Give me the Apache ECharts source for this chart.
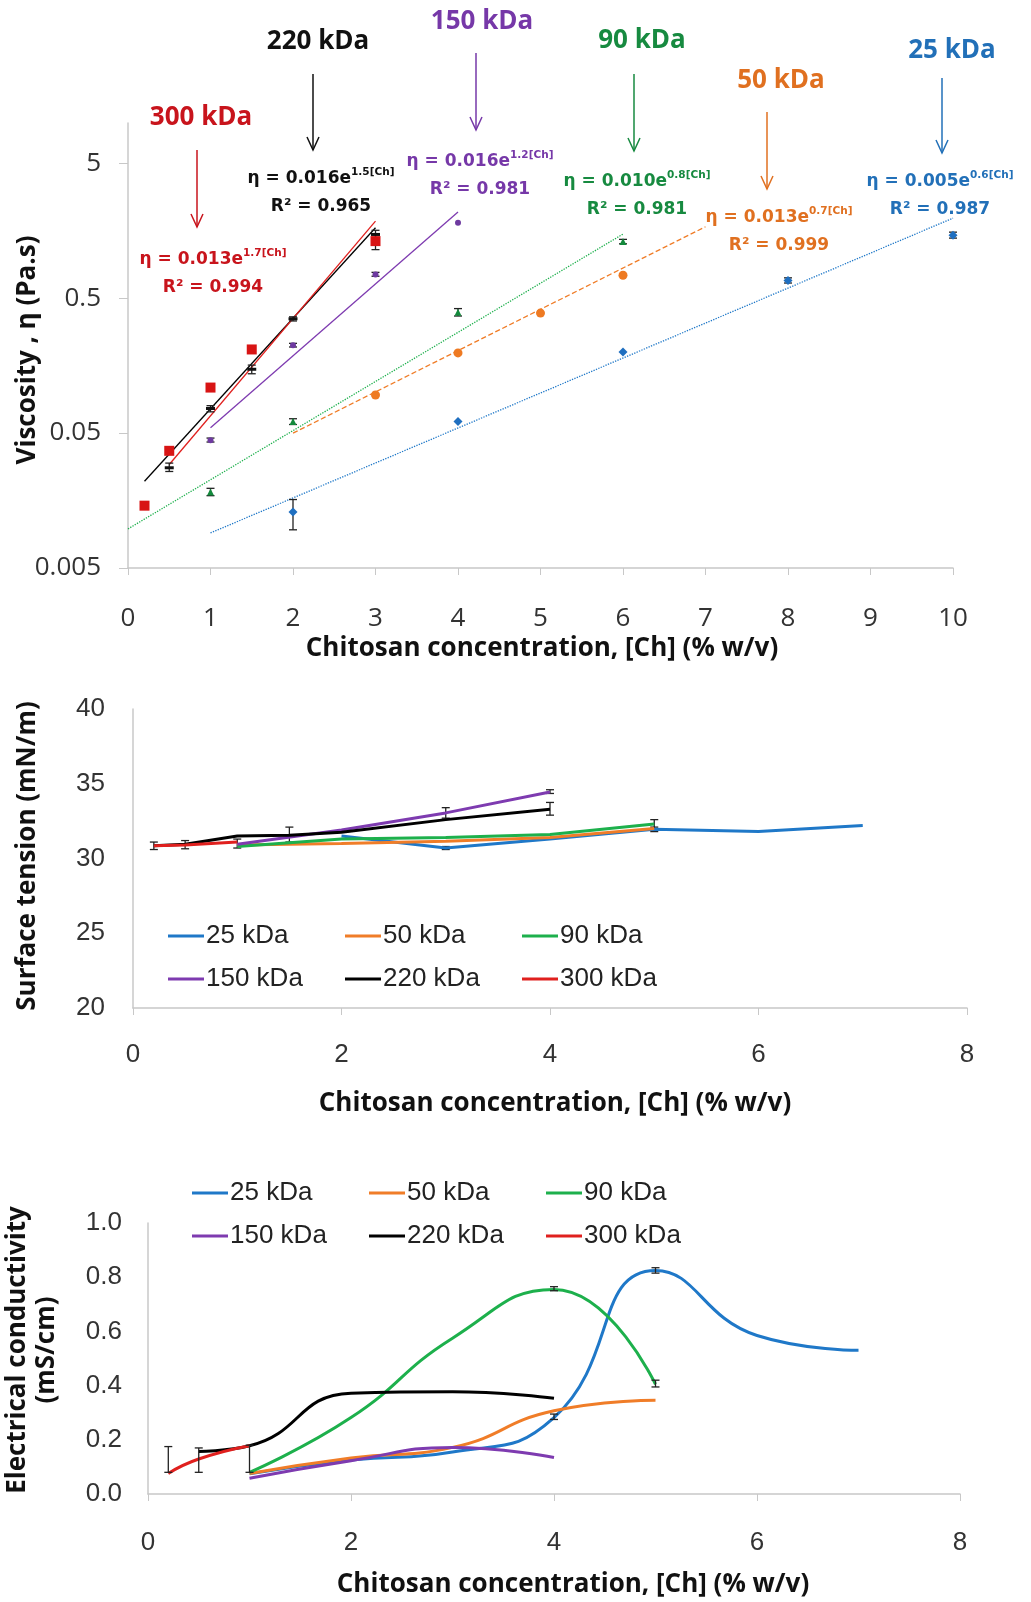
<!DOCTYPE html>
<html>
<head>
<meta charset="utf-8">
<script src="https://cdn.jsdelivr.net/npm/echarts@6/dist/echarts.min.js"></script>
<style>
  html, body { margin: 0; padding: 0; background: #fff; }
  #chart-container { width: 1031px; height: 1602px; }
</style>
</head>
<body>
<div id="chart-container"></div>
<script>
// series names
var kDa = ["25 kDa", "50 kDa", "90 kDa", "150 kDa", "220 kDa", "300 kDa"];

// viscosity points [conc, Pa.s]
var visc25 = [[2, 0.013], [4, 0.061], [6, 0.2], [8, 0.68], [10, 1.47]];
var visc50 = [[3, 0.096], [4, 0.197], [5, 0.389], [6, 0.743]];
var visc90 = [[1, 0.0183], [2, 0.061], [4, 0.395], [6, 1.32]];
var visc150 = [[1, 0.0444], [2, 0.225], [3, 0.753], [4, 1.82]];
var visc220 = [[0.5, 0.0277], [1, 0.0762], [1.5, 0.149], [2, 0.353], [3, 1.49]];
var visc300 = [[0.2, 0.0145], [0.5, 0.037], [1, 0.109], [1.5, 0.209], [3, 1.33]];

// exponential fit lines, end points
var fit25 = [[1, 0.0091], [10, 1.97]];
var fit50 = [[2, 0.05], [7, 1.7]];
var fit90 = [[0, 0.00975], [6, 1.5]];
var fit150 = [[1, 0.0548], [4, 2.19]];
var fit220 = [[0.2, 0.022], [3, 1.67]];
var fit300 = [[0.5, 0.0293], [3, 1.87]];

// error bars [conc, low, high]
var viscErr = [[0.5, 0.026, 0.030], [1, 0.072, 0.080], [1.5, 0.138, 0.160], [2, 0.34, 0.365],
  [3, 1.38, 1.6], [3, 1.15, 1.5], [2, 0.0096, 0.0161], [1, 0.0172, 0.0195], [2, 0.058, 0.064],
  [4, 0.37, 0.42], [6, 1.27, 1.37], [8, 0.65, 0.71], [10, 1.40, 1.55],
  [1, 0.043, 0.046], [2, 0.218, 0.232], [3, 0.73, 0.78]];

// fit equations
var fitEq = ["0.005e", "0.013e", "0.010e", "0.016e", "0.016e", "0.013e"];
var fitExp = ["0.6[Ch]", "0.7[Ch]", "0.8[Ch]", "1.2[Ch]", "1.5[Ch]", "1.7[Ch]"];
var fitR2 = ["0.987", "0.999", "0.981", "0.981", "0.965", "0.994"];

// surface tension [conc, mN/m]
var st25 = [[2, 31.5], [3, 30.7], [4, 31.3], [5, 31.95], [6, 31.8], [7, 32.2]];
var st50 = [[1, 30.9], [2, 31.0], [3, 31.15], [4, 31.4], [5, 32.0]];
var st90 = [[1, 30.8], [2, 31.3], [3, 31.4], [4, 31.6], [5, 32.3]];
var st150 = [[1, 30.95], [2, 31.9], [3, 33.05], [4, 34.45]];
var st220 = [[0.2, 30.85], [0.5, 30.95], [1, 31.5], [1.5, 31.55], [2, 31.75], [3, 32.6], [4, 33.3]];
var st300 = [[0.2, 30.85], [0.5, 30.9], [1, 31.1]];
var stErr = [[0.2, 30.6, 31.1], [0.5, 30.65, 31.2], [1, 30.7, 31.3], [1.5, 31.1, 32.1],
  [3, 32.7, 33.4], [4, 32.9, 33.75], [4, 34.35, 34.6], [5, 31.9, 32.6], [3, 30.6, 30.8], [5, 31.8, 32.1]];

// electrical conductivity [conc, mS/cm]
var ec25 = [[1, 0.075], [2, 0.125], [3, 0.155], [4, 0.282], [5, 0.825], [6, 0.585], [7, 0.53]];
var ec50 = [[1, 0.076], [2, 0.133], [3, 0.172], [4, 0.307], [5, 0.346]];
var ec90 = [[1, 0.08], [2, 0.282], [3, 0.575], [4, 0.755], [5, 0.405]];
var ec150 = [[1, 0.058], [2, 0.123], [3, 0.172], [4, 0.135]];
var ec220 = [[0.5, 0.157], [1, 0.178], [2, 0.372], [3, 0.377], [4, 0.353]];
var ec300 = [[0.2, 0.076], [0.5, 0.129], [1, 0.178]];
var ecErr = [[0.2, 0.08, 0.175], [0.5, 0.08, 0.17], [1, 0.08, 0.18], [4, 0.75, 0.765],
  [5, 0.395, 0.42], [5, 0.815, 0.835], [4, 0.275, 0.295]];

var lineColors = ["#1F78C8", "#F07D28", "#1DB04C", "#7E3BB0", "#000000", "#E0201E"];
var markColors = ["#1F6FC0", "#EE7A22", "#138A3C", "#6E3AA0", "#111111", "#D81414"];
var eqColors = ["#2270B8", "#E07020", "#178A40", "#7638A8", "#111111", "#C8141C"];

var dom = document.getElementById("chart-container");
var myChart = echarts.init(dom, null, { renderer: "canvas" });

function renderErr(params, api) {
  var x = api.value(0);
  var lo = api.coord([x, api.value(1)]);
  var hi = api.coord([x, api.value(2)]);
  var w = 4;
  var st = { stroke: "#222", lineWidth: 1.3 };
  return {
    type: "group",
    children: [
      { type: "line", shape: { x1: lo[0], y1: lo[1], x2: hi[0], y2: hi[1] }, style: st },
      { type: "line", shape: { x1: lo[0] - w, y1: lo[1], x2: lo[0] + w, y2: lo[1] }, style: st },
      { type: "line", shape: { x1: hi[0] - w, y1: hi[1], x2: hi[0] + w, y2: hi[1] }, style: st }
    ]
  };
}

var tickFont = { fontFamily: "Open Sans", fontSize: 26, color: "#333" };
var smallFont = { fontFamily: "Liberation Sans", fontSize: 26, color: "#333" };

function xAxisFor(idx, max, interval, font, margin) {
  return {
    type: "value", gridIndex: idx, min: 0, max: max, interval: interval,
    axisLine: { show: true, onZero: false, lineStyle: { color: "#c8c8c8", width: 1.5 } },
    axisTick: { show: true, inside: false, length: 7, lineStyle: { color: "#c8c8c8" } },
    axisLabel: Object.assign({ margin: margin }, font),
    splitLine: { show: false }
  };
}

var fits = [fit25, fit50, fit90, fit150, fit220, fit300];
var viscs = [visc25, visc50, visc90, visc150, visc220, visc300];
var sts = [st25, st50, st90, st150, st220, st300];
var ecs = [ec25, ec50, ec90, ec150, ec220, ec300];
var markerSym = ["diamond", "circle", "triangle", "circle", "rect", "rect"];
var markerSize = [9, 9, 7, 6, [9, 3], 10];
var fitType = ["dotted", "dashed", "dotted", "solid", "solid", "solid"];

var series = [];
fits.forEach(function (d, i) {
  series.push({
    name: "fit " + kDa[i], type: "line", xAxisIndex: 0, yAxisIndex: 0, data: d,
    showSymbol: false, silent: true,
    lineStyle: { color: lineColors[i], width: 1.3, type: fitType[i] }, z: 2
  });
});
series.push({
  name: "err viscosity", type: "custom", xAxisIndex: 0, yAxisIndex: 0,
  renderItem: renderErr, encode: { x: 0, y: [1, 2] }, data: viscErr, z: 3
});
viscs.forEach(function (d, i) {
  series.push({
    name: "η " + kDa[i], type: "scatter", xAxisIndex: 0, yAxisIndex: 0, data: d,
    symbol: markerSym[i], symbolSize: markerSize[i],
    itemStyle: { color: markColors[i], opacity: 1 }, z: 4
  });
});
series.push({
  name: "err tension", type: "custom", xAxisIndex: 1, yAxisIndex: 1,
  renderItem: renderErr, encode: { x: 0, y: [1, 2] }, data: stErr, z: 1
});
sts.forEach(function (d, i) {
  series.push({
    name: kDa[i], type: "line", xAxisIndex: 1, yAxisIndex: 1, data: d,
    showSymbol: false, color: lineColors[i],
    lineStyle: { width: 3, color: lineColors[i] }, z: 2
  });
});
ecs.forEach(function (d, i) {
  series.push({
    name: kDa[i], type: "line", xAxisIndex: 2, yAxisIndex: 2, data: d,
    showSymbol: false, smooth: 0.5, color: lineColors[i],
    lineStyle: { width: 3, color: lineColors[i] }, z: 2
  });
});
series.push({
  name: "err conductivity", type: "custom", xAxisIndex: 2, yAxisIndex: 2,
  renderItem: renderErr, encode: { x: 0, y: [1, 2] }, data: ecErr, z: 3
});

function legendFor(left, top) {
  return {
    data: kDa, left: left, top: top, width: 545, padding: 0,
    orient: "horizontal", icon: "rect", itemWidth: 36, itemHeight: 3, itemGap: 9,
    selectedMode: false,
    textStyle: { fontFamily: "Liberation Sans", fontSize: 26, color: "#222", width: 130, lineHeight: 34, padding: [0, 0, 0, -3] }
  };
}

// annotations for the viscosity fits: [label x, label y, arrow x, arrow top, arrow bottom, eq x, eq y]
var notePos = [
  [952, 51, 942, 78, 153, 940, 180],
  [781, 81, 767, 112, 189, 779, 216],
  [642, 41, 634, 74, 151, 637, 180],
  [482, 22, 476, 53, 130, 480, 160],
  [318, 42, 313, 74, 150, 321, 177],
  [201, 118, 197, 150, 227, 213, 258]
];
var graphics = [];
notePos.forEach(function (p, i) {
  var c = eqColors[i];
  graphics.push({
    type: "text", x: p[0], y: p[1],
    style: { text: kDa[i], fontFamily: "Open Sans", fontWeight: "bold", fontSize: 26, fill: c, align: "center", verticalAlign: "middle" }
  });
  graphics.push({ type: "line", shape: { x1: p[2], y1: p[3], x2: p[2], y2: p[4] }, style: { stroke: c, lineWidth: 1.5 } });
  graphics.push({ type: "polyline", shape: { points: [[p[2] - 6, p[4] - 13], [p[2], p[4]], [p[2] + 6, p[4] - 13]] }, style: { stroke: c, lineWidth: 1.5, fill: null } });
  graphics.push({
    type: "text", x: p[5], y: p[6],
    style: {
      text: "{b|η = " + fitEq[i] + "}{s|" + fitExp[i] + "}", fill: c, align: "center", verticalAlign: "middle",
      rich: {
        b: { fontFamily: "DejaVu Sans", fontWeight: "bold", fontSize: 17, lineHeight: 21, verticalAlign: "bottom", fill: c },
        s: { fontFamily: "DejaVu Sans", fontWeight: "bold", fontSize: 10.5, lineHeight: 12, verticalAlign: "top", fill: c }
      }
    }
  });
  graphics.push({
    type: "text", x: p[5], y: p[6] + 30,
    style: {
      text: "R² = " + fitR2[i], fontFamily: "DejaVu Sans", fontWeight: "bold", fontSize: 17, fill: c, align: "center", verticalAlign: "middle"
    }
  });
});

var titleFont = { fontFamily: "Open Sans", fontWeight: "bold", fontSize: 26, fill: "#111" };
function title(text, x, y, rot) {
  return {
    type: "text", x: x, y: y, rotation: rot ? Math.PI / 2 : 0,
    style: Object.assign({ text: text, align: "center", verticalAlign: "middle" }, titleFont)
  };
}
graphics.push(title("Chitosan concentration, [Ch] (% w/v)", 542, 649, false));
graphics.push(title("Viscosity , η (Pa.s)", 28, 350, true));
graphics.push(title("Chitosan concentration, [Ch] (% w/v)", 555, 1104, false));
graphics.push(title("Surface tension (mN/m)", 28, 856, true));
graphics.push(title("Chitosan concentration, [Ch] (% w/v)", 573, 1585, false));
graphics.push(title("Electrical conductivity", 18, 1350, true));
graphics.push(title("(mS/cm)", 47, 1350, true));

var option = {
  animation: false,
  backgroundColor: "#fff",
  grid: [
    { left: 128, right: 78, top: 123, bottom: 1034 },
    { left: 133, right: 64, top: 709, bottom: 594 },
    { left: 148, right: 71, top: 1223, bottom: 108 }
  ],
  xAxis: [
    xAxisFor(0, 10, 1, tickFont, 38),
    xAxisFor(1, 8, 2, smallFont, 34),
    xAxisFor(2, 8, 2, smallFont, 36)
  ],
  yAxis: [
    {
      type: "log", logBase: 10, gridIndex: 0, min: 0.005, max: 10, interval: 1,
      axisLine: { show: true, lineStyle: { color: "#c8c8c8", width: 1.5 } },
      axisTick: { show: true, length: 9, lineStyle: { color: "#c8c8c8" } },
      axisLabel: Object.assign({ margin: 27, showMaxLabel: false, formatter: function (v) { return String(+v.toPrecision(2)); } }, tickFont),
      splitLine: { show: false }, minorSplitLine: { show: false }
    },
    {
      type: "value", gridIndex: 1, min: 20, max: 40, interval: 5,
      axisLine: { show: true, lineStyle: { color: "#c8c8c8", width: 1.5 } },
      axisTick: { show: false },
      axisLabel: Object.assign({ margin: 28 }, smallFont),
      splitLine: { show: false }
    },
    {
      type: "value", gridIndex: 2, min: 0, max: 1, interval: 0.2,
      axisLine: { show: true, lineStyle: { color: "#c8c8c8", width: 1.5 } },
      axisTick: { show: false },
      axisLabel: Object.assign({ margin: 26, formatter: function (v) { return v.toFixed(1); } }, smallFont),
      splitLine: { show: false }
    }
  ],
  legend: [legendFor(168, 919), legendFor(192, 1176)],
  graphic: graphics,
  series: series
};

myChart.setOption(option);
window.addEventListener("resize", myChart.resize);
</script>
</body>
</html>
